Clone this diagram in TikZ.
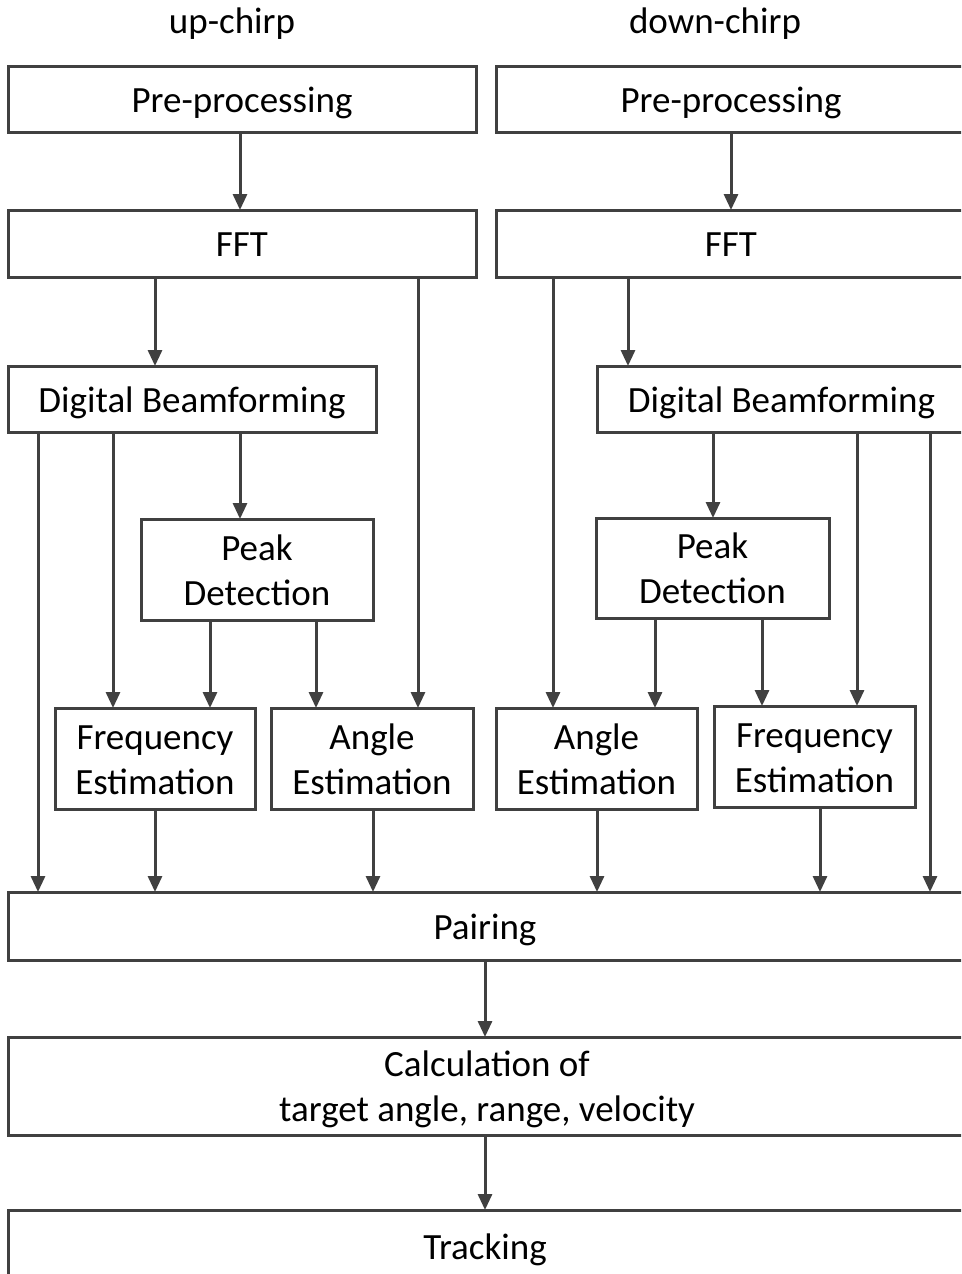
\documentclass[tikz,border=0pt]{standalone}
\usepackage{fontspec}
\setmainfont{Carlito}
\usetikzlibrary{arrows.meta}
\definecolor{ink}{HTML}{404040}
% fixed line strut: 35pt above, 9pt below the baseline of every text line
\newcommand\ls{\rule[-9pt]{0pt}{44pt}}
\tikzset{
  box/.style={draw=ink, line width=3pt, outer sep=0pt, inner sep=0pt,
    align=center, font=\fontsize{37}{45}\selectfont, text=black},
  arr/.style={draw=ink, line width=3pt, -{Triangle[length=16pt,width=14pt]}},
  lbl/.style={font=\fontsize{37}{45}\selectfont, text=black, anchor=base}
}
% vertical link from the bottom of #1 to the top of #2 at abscissa #3
\newcommand\vlink[3]{\draw[arr] (#1.south -| #3,0) -- (#2.north -| #3,0);}
\begin{document}
\begin{tikzpicture}[x=1pt, y=-1pt]
\useasboundingbox (0,0) rectangle (961,1274);
\clip (0,0) rectangle (961,1274);

% column headings
\node[lbl] (hup) at (232,33) {up-chirp};
\node[lbl] (hdown) at (715,33) {down-chirp};

% up-chirp branch
\node[box, minimum width=468, minimum height=66] (preL) at (242,99) {\ls Pre-processing};
\node[box, minimum width=468, minimum height=67] (fftL) at (242,243.5) {\ls FFT};
\node[box, minimum width=368, minimum height=66] (dbfL) at (192,399) {\ls Digital Beamforming};
\node[box, minimum width=232, minimum height=101] (pkL) at (257,569.5) {\ls Peak\\\ls Detection};
\node[box, minimum width=200, minimum height=101] (feL) at (155,758.5) {\ls Frequency\\\ls Estimation};
\node[box, minimum width=202, minimum height=101] (aeL) at (372,758.5) {\ls Angle\\\ls Estimation};

% down-chirp branch
\node[box, minimum width=470, minimum height=66] (preR) at (731,99) {\ls Pre-processing};
\node[box, minimum width=470, minimum height=67] (fftR) at (731,243.5) {\ls FFT};
\node[box, minimum width=369, minimum height=66] (dbfR) at (781.5,399) {\ls Digital Beamforming};
\node[box, minimum width=233, minimum height=100] (pkR) at (712.5,568) {\ls Peak\\\ls Detection};
\node[box, minimum width=201, minimum height=101] (aeR) at (596.5,758.5) {\ls Angle\\\ls Estimation};
\node[box, minimum width=201, minimum height=101] (feR) at (814.5,756.5) {\ls Frequency\\\ls Estimation};

% common stages
\node[box, minimum width=958, minimum height=68] (pair) at (487,926) {\ls Pairing\hspace{4pt}};
\node[box, minimum width=958, minimum height=98] (calc) at (487,1086) {\ls Calculation of\hspace{4pt}\\\ls target angle, range, velocity\hspace{4pt}};
\node[box, minimum width=958, minimum height=72] (track) at (487,1246) {\ls Tracking\hspace{4pt}};

% connectors, up-chirp
\vlink{preL}{fftL}{240}
\vlink{fftL}{dbfL}{155}
\vlink{fftL}{aeL}{418}
\vlink{dbfL}{pair}{38}
\vlink{dbfL}{feL}{113}
\vlink{dbfL}{pkL}{240}
\vlink{pkL}{feL}{210}
\vlink{pkL}{aeL}{316}
\vlink{feL}{pair}{155}
\vlink{aeL}{pair}{373}

% connectors, down-chirp
\vlink{preR}{fftR}{731}
\vlink{fftR}{aeR}{553}
\vlink{fftR}{dbfR}{628}
\vlink{dbfR}{pkR}{713}
\vlink{dbfR}{feR}{857}
\vlink{dbfR}{pair}{930}
\vlink{pkR}{aeR}{655}
\vlink{pkR}{feR}{762}
\vlink{aeR}{pair}{597}
\vlink{feR}{pair}{820}

% common chain
\vlink{pair}{calc}{485}
\vlink{calc}{track}{485}
\end{tikzpicture}
\end{document}
